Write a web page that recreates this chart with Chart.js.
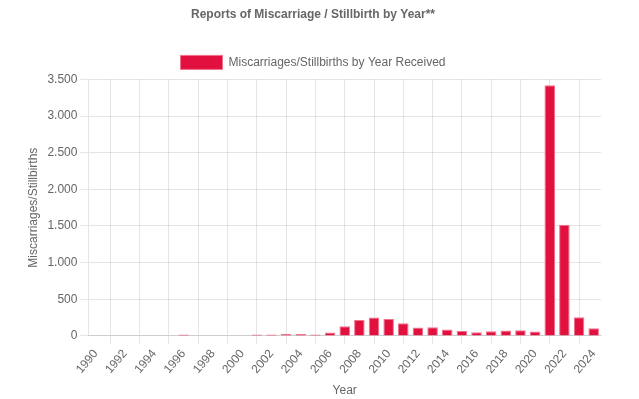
<!DOCTYPE html>
<html>
<head>
<meta charset="utf-8">
<script src="https://cdn.jsdelivr.net/npm/chart.js@4/dist/chart.umd.min.js"></script>
<style>
  html, body { margin: 0; padding: 0; background: #fff; }
  #wrap { width: 639px; height: 399px; }
</style>
</head>
<body>
<div id="wrap"><canvas id="yearChart"></canvas></div>
<script>
// Jahre und Meldungen
const years = [
  "1990", "1991", "1992", "1993", "1994", "1995", "1996", "1997", "1998", "1999",
  "2000", "2001", "2002", "2003", "2004", "2005", "2006", "2007", "2008", "2009",
  "2010", "2011", "2012", "2013", "2014", "2015", "2016", "2017", "2018", "2019",
  "2020", "2021", "2022", "2023", "2024"
];
const reports = [
  0, 0, 0, 0, 0, 0, 18, 5, 5, 0,
  5, 20, 20, 25, 25, 18, 45, 133, 216, 250,
  231, 173, 115, 118, 86, 68, 50, 64, 73, 77,
  59, 3419, 1516, 254, 104
];
const yTicks = [0, 500, 1000, 1500, 2000, 2500, 3000, 3500];

const seriesLabel = "Miscarriages/Stillbirths by Year Received";
const chartTitle = "Reports of Miscarriage / Stillbirth by Year**";

// Titel + Legende sitzen im Original etwas links von der Mitte (Mitte ~313px)
const headerRight = 604;
const shiftHeader = {
  id: "shiftHeader",
  afterLayout(chart) {
    if (chart.titleBlock) chart.titleBlock.right = headerRight;
    if (chart.legend) chart.legend.right = headerRight;
  }
};

function dotThousands(v) {
  return String(v).replace(/\B(?=(\d{3})+(?!\d))/g, ".");
}

Chart.defaults.font.family = "'Liberation Sans', Arial, sans-serif";
Chart.defaults.font.size = 12;
Chart.defaults.color = "#666";

const ctx = document.getElementById("yearChart").getContext("2d");
new Chart(ctx, {
  type: "bar",
  data: {
    labels: years,
    datasets: [{
      label: seriesLabel,
      data: reports,
      backgroundColor: "#E2103E",
      borderColor: "#F2708C",
      borderWidth: 1
    }]
  },
  options: {
    responsive: true,
    maintainAspectRatio: false,
    animation: false,
    layout: {
      padding: { top: 0, bottom: 0, left: 22, right: 38 }
    },
    plugins: {
      title: {
        display: true,
        text: chartTitle,
        font: { size: 12, weight: "bold" },
        padding: { top: 7, bottom: 24 }
      },
      legend: {
        display: true,
        labels: { boxWidth: 42, boxHeight: 14 }
      },
      tooltip: { enabled: false }
    },
    scales: {
      x: {
        title: { display: true, text: "Year", padding: { top: 4, bottom: 1 } },
        ticks: { maxRotation: 50 }
      },
      y: {
        min: 0,
        max: 3500,
        afterBuildTicks(axis) {
          axis.ticks = yTicks.map(v => ({ value: v }));
        },
        ticks: { callback: v => dotThousands(v) },
        title: { display: true, text: "Miscarriages/Stillbirths" }
      }
    }
  },
  plugins: [shiftHeader]
});
</script>
</body>
</html>
